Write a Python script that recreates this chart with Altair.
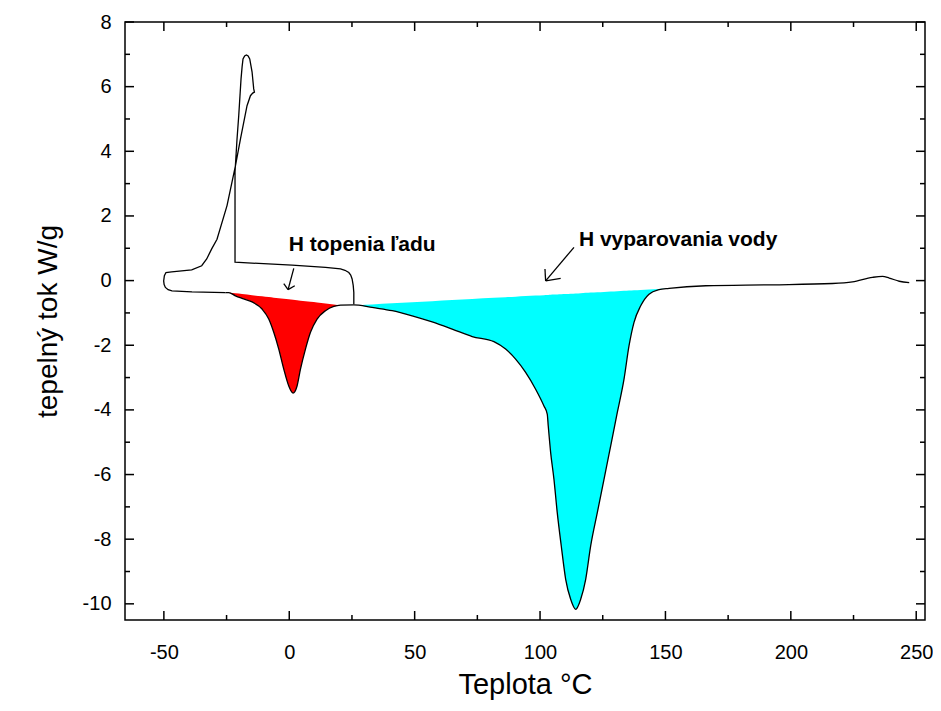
import altair as alt
import pandas as pd

# ---- data (temperature °C, heat flow W/g) ----
# cooling run (with the freezing exotherm)
cool_T = [25.74, 25.74, 25.5, 25.06, 24.5, 23.74, 22.2, 20.43, 14.45, 1.12, -12.17, -21.63, -21.63,
          -20.83, -20.15, -19.23, -18.8, -18.44, -17.8, -17.08, -16.4, -15.76, -14.84, -14.17,
          -13.89, -14.57,
          -15.48, -16.84, -19.47, -21.47, -24.82, -28.81, -30.93, -32.92, -34.92, -38.91,
          -46.89, -49.16, -49.8, -50.08, -49.9, -49.40, -48.3, -46.77, -38.79, -25.46]
cool_Y = [-0.73, -0.37, -0.15, 0.05, 0.17, 0.25, 0.32, 0.36, 0.41, 0.48, 0.53, 0.57, 3.36,
          4.38, 5.10, 6.24, 6.62, 6.86, 6.95, 6.98, 6.95, 6.86, 6.46, 5.93,
          5.83, 5.80,
          5.72, 5.41, 4.38, 3.55, 2.32, 1.28, 0.98, 0.67, 0.46, 0.33,
          0.27, 0.25, 0.15, -0.01, -0.12, -0.21, -0.28, -0.32, -0.35, -0.37]

# heating run
heat_T = [-25.46, -24.14, -21.47, -18.84, -14.84, -10.85, -8.18, -6.19, -4.19, -2.19, -0.20,
          1.52, 3.11, 4.47, 6.46, 8.46, 11.09, 14.45, 17.76, 20.43, 25.74,
          27.73, 33.04, 41.02, 49.00, 56.98, 64.96, 72.94, 81.60, 86.27, 90.26,
          94.25, 98.24, 101.56, 102.87, 103.27, 104.23, 105.55, 106.86, 108.46, 110.22,
          112.21, 114.21, 116.20, 118.20, 120.19, 122.83, 125.50, 128.17, 130.81, 133.48,
          135.47, 137.47, 140.14, 143.45, 147.45, 151.44, 166.08, 192.66, 216.60, 224.58,
          232.56, 236.55, 239.23, 243.22, 247.21]
heat_Y = [-0.37, -0.37, -0.47, -0.55, -0.66, -0.88, -1.19, -1.60, -2.12, -2.74, -3.26,
          -3.48, -3.26, -2.74, -2.12, -1.60, -1.19, -0.93, -0.80, -0.76, -0.75,
          -0.76, -0.83, -0.93, -1.09, -1.28, -1.50, -1.73, -1.89, -2.12, -2.43,
          -2.84, -3.36, -3.88, -4.13, -4.50, -5.32, -6.15, -7.18, -8.21, -9.24,
          -9.86, -10.17, -9.86, -9.24, -8.21, -7.18, -6.15, -5.11, -4.08, -3.05,
          -2.02, -1.29, -0.78, -0.42, -0.28, -0.24, -0.16, -0.13, -0.09, -0.04,
          0.10, 0.13, 0.08, -0.02, -0.06]

# straight baselines of the two integrated peaks (end points)
red_base_T = [-24.14, 20.43]
red_base_Y = [-0.37, -0.76]
cyan_base_T = [27.73, 151.44]
cyan_base_Y = [-0.76, -0.24]

# annotations
ann_text = ["H topenia ľadu", "H vyparovania vody"]
ann_T = [-0.2, 115.5]
ann_Y = [1.10, 1.25]
# arrow strokes (shaft + two head strokes for each arrow)
arr_T1 = [1.80, -2.19, 2.19, 113.53, 101.96, 108.22]
arr_Y1 = [0.38, -0.09, -0.16, 1.03, 0.36, 0.07]
arr_T2 = [-0.48, -0.48, -0.48, 102.23, 102.23, 102.23]
arr_Y2 = [-0.28, -0.28, -0.28, -0.01, -0.01, -0.01]

x_major = [-50, 0, 50, 100, 150, 200, 250]
x_minor = [-25, 25, 75, 125, 175, 225]
y_major = [-10, -8, -6, -4, -2, 0, 2, 4, 6, 8]
y_minor = [-9, -7, -5, -3, -1, 1, 3, 5, 7]

X_DOMAIN = [-65.5, 253.5]
Y_DOMAIN = [-10.5, 8]
W, H = 800, 598
FONT = "Liberation Sans"

# ---- tables ----
cool_df = pd.DataFrame({"T": cool_T, "Y": cool_Y})
cool_df["i"] = range(len(cool_df))
heat_df = pd.DataFrame({"T": heat_T, "Y": heat_Y})


def fill_table(bt, by):
    d = heat_df[(heat_df["T"] >= bt[0]) & (heat_df["T"] <= bt[1])].copy()
    d["base"] = by[0] + (d["T"] - bt[0]) * (by[1] - by[0]) / (bt[1] - bt[0])
    return d


red_df = fill_table(red_base_T, red_base_Y)
cyan_df = fill_table(cyan_base_T, cyan_base_Y)
ann_df = pd.DataFrame({"t": ann_text, "T": ann_T, "Y": ann_Y})
arr_df = pd.DataFrame({"T1": arr_T1, "Y1": arr_Y1, "T2": arr_T2, "Y2": arr_Y2})

xs = alt.Scale(domain=X_DOMAIN, nice=False, zero=False)
ys = alt.Scale(domain=Y_DOMAIN, nice=False, zero=False)

x_axis = alt.Axis(values=x_major, title="Teplota °C", labelFontSize=20, titleFontSize=29,
                  labelPadding=22, titlePadding=8, titleFontWeight="normal",
                  labelExpr="toString(datum.value)",
                  grid=False, domain=False, ticks=False)
y_axis = alt.Axis(values=y_major, title="tepelný tok W/g", labelFontSize=20, titleFontSize=28,
                  labelPadding=14, titlePadding=20, titleFontWeight="normal",
                  labelExpr="toString(datum.value)",
                  grid=False, domain=False, ticks=False)


def X(f):
    return alt.X(f, scale=xs, axis=x_axis)


def Y(f):
    return alt.Y(f, scale=ys, axis=y_axis)


red = alt.Chart(red_df).mark_area(color="#ff0000", opacity=1, interpolate="monotone").encode(
    x=X("T:Q"), y=Y("Y:Q"), y2="base:Q")
cyan = alt.Chart(cyan_df).mark_area(color="#00ffff", opacity=1, interpolate="monotone").encode(
    x=X("T:Q"), y=Y("Y:Q"), y2="base:Q")

cool_line = alt.Chart(cool_df).mark_line(color="black", strokeWidth=1.3).encode(
    x=X("T:Q"), y=Y("Y:Q"), order="i:Q")
heat_line = alt.Chart(heat_df).mark_line(color="black", strokeWidth=1.3,
                                         interpolate="monotone").encode(
    x=X("T:Q"), y=Y("Y:Q"))

arrows = alt.Chart(arr_df).mark_rule(color="black", strokeWidth=1.3).encode(
    x=X("T1:Q"), y=Y("Y1:Q"), x2="T2:Q", y2="Y2:Q")

texts = alt.Chart(ann_df).mark_text(align="left", baseline="middle", fontWeight="bold",
                                    fontSize=21, font=FONT, color="black").encode(
    x=X("T:Q"), y=Y("Y:Q"), text="t:N")


def xticks(vals, y0, y1):
    return alt.Chart(pd.DataFrame({"v": vals})).mark_rule(color="black", strokeWidth=1.5).encode(
        x=X("v:Q"), y=alt.value(y0), y2=alt.value(y1))


def yticks(vals, x0, x1):
    return alt.Chart(pd.DataFrame({"v": vals})).mark_rule(color="black", strokeWidth=1.5).encode(
        y=Y("v:Q"), x=alt.value(x0), x2=alt.value(x1))


ticks = [
    xticks(x_major, H, H - 9), xticks(x_minor, H, H - 5),
    xticks(x_major, 0, 9), xticks(x_minor, 0, 5),
    yticks(y_major, 0, 9), yticks(y_minor, 0, 5),
    yticks(y_major, W, W - 9), yticks(y_minor, W, W - 5),
]

chart = alt.layer(red, cyan, cool_line, heat_line, arrows, texts, *ticks).properties(
    width=W, height=H,
    padding={"left": 117, "top": 14, "right": 8, "bottom": 80},
    autosize=alt.AutoSizeParams(type="none"),
).configure_view(stroke="black", strokeWidth=1.5).configure_axis(
    labelFont=FONT, titleFont=FONT, labelColor="black", titleColor="black")

chart.save("out.html", embed_options={"renderer": "svg", "actions": False})
